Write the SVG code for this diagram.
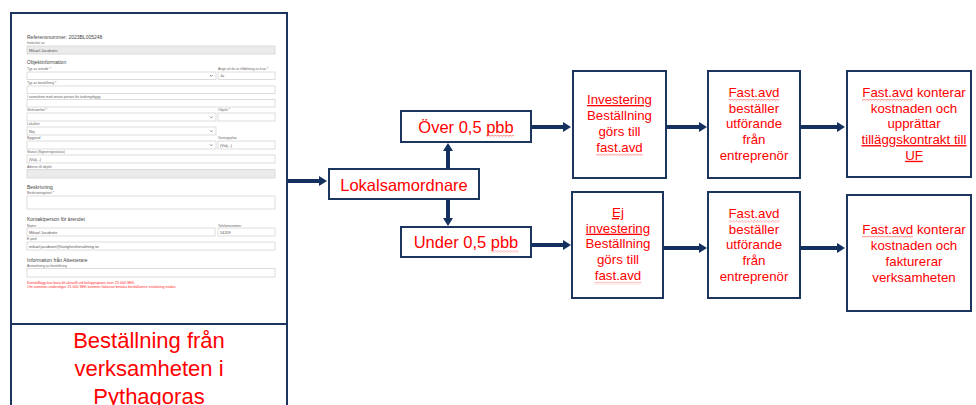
<svg xmlns="http://www.w3.org/2000/svg" width="976" height="405" viewBox="0 0 976 405">
<style>
.box{fill:#fff;stroke:#1b355f;stroke-width:2}
.t{font-family:"Liberation Sans",Arial,sans-serif;fill:#ff0000;text-anchor:middle}
.big{font-size:22px}
.mid{font-size:16.5px}
.sm{font-size:13.3px}
.u{text-decoration:underline}
.fl{font-family:"Liberation Sans",Arial,sans-serif;fill:#666;font-size:3.4px}
.fh{font-family:"Liberation Sans",Arial,sans-serif;fill:#444;font-size:5px}
.fv{font-family:"Liberation Sans",Arial,sans-serif;fill:#555;font-size:3.8px}
.fr{font-family:"Liberation Sans",Arial,sans-serif;fill:#ff2a2a;font-size:3.6px}
.fld{fill:#fff;stroke:#d4d4d4;stroke-width:0.8}
.fg{fill:#ebebeb;stroke:#d4d4d4;stroke-width:0.8}
.dd{fill:none;stroke:#555;stroke-width:0.7}
.c{fill:none;stroke:#14305e;stroke-width:4}
.wv{fill:url(#wave)}
</style>
<defs>
<marker id="ah" markerUnits="userSpaceOnUse" markerWidth="8" markerHeight="10" refX="2" refY="5" orient="auto">
<path d="M0,0 L8,5 L0,10 z" fill="#14305e"/>
</marker>
<pattern id="wave" patternUnits="userSpaceOnUse" width="3" height="2.4">
<path d="M0,0.5 L1.5,1.9 L3,0.5" fill="none" stroke="#ff4a4a" stroke-width="0.7"/>
</pattern>
</defs>
<rect width="976" height="405" fill="#fff"/>

<g id="form">
<rect class="box" x="11" y="13" width="276" height="400"/>
<line x1="11" y1="324" x2="287" y2="324" stroke="#1b355f" stroke-width="2"/>
<text class="fh" x="27" y="39">Referensnummer: 2023BL005248</text>
<text class="fl" x="27" y="44">Inskickat av</text>
<rect class="fg" x="27" y="46" width="248" height="8"/>
<text class="fv" x="29" y="51.5">Mikael Jacobsén</text>
<text class="fh" x="27" y="64">Objektinformation</text>
<text class="fl" x="27" y="70">Typ av ärende *</text>
<text class="fl" x="218" y="70">Ange att du är tilldelning av krav *</text>
<rect class="fld" x="27" y="72" width="189" height="7.5"/>
<path class="dd" d="M210,75 l1.3,1.3 l1.3,-1.3"/>
<rect class="fld" x="218" y="72" width="57" height="7.5"/>
<text class="fv" x="220" y="77.3">Ja</text>
<text class="fl" x="27" y="84">Typ av beställning *</text>
<rect class="fld" x="27" y="86" width="248" height="7.5"/>
<text class="fl" x="27" y="97.5">I samarbete med annan person för ändringsbygg</text>
<rect class="fld" x="27" y="99.5" width="248" height="7.5"/>
<text class="fl" x="27" y="111">Verksamhet *</text>
<text class="fl" x="218" y="111">Objekt *</text>
<rect class="fld" x="27" y="113" width="189" height="8"/>
<path class="dd" d="M210,116.5 l1.3,1.3 l1.3,-1.3"/>
<rect class="fld" x="218" y="113" width="57" height="8"/>
<text class="fl" x="27" y="125">Lokalitet</text>
<rect class="fld" x="27" y="127" width="189" height="8"/>
<text class="fv" x="29" y="132.5">Nej</text>
<path class="dd" d="M210,130.5 l1.3,1.3 l1.3,-1.3"/>
<text class="fl" x="27" y="139">Byggnad</text>
<text class="fl" x="218" y="139">Våningsplan</text>
<rect class="fld" x="27" y="141" width="189" height="8"/>
<path class="dd" d="M210,144.5 l1.3,1.3 l1.3,-1.3"/>
<rect class="fld" x="218" y="141" width="57" height="8"/>
<text class="fv" x="220" y="146.5">(Välj...)</text>
<text class="fl" x="27" y="153">Status (Signeringsstatus)</text>
<rect class="fld" x="27" y="155" width="248" height="8"/>
<text class="fv" x="29" y="160.5">(Välj...)</text>
<text class="fl" x="27" y="167.5">Adress till objekt</text>
<rect class="fg" x="27" y="169.5" width="248" height="8.5"/>
<text class="fh" x="27" y="189">Beskrivning</text>
<text class="fl" x="27" y="194">Beskrivningstext *</text>
<rect class="fld" x="27" y="196" width="248" height="13"/>
<text class="fh" x="27" y="221">Kontaktperson för ärendet</text>
<text class="fl" x="27" y="226.5">Namn</text>
<text class="fl" x="218" y="226.5">Telefonnummer</text>
<rect class="fld" x="27" y="228" width="188" height="8"/>
<text class="fv" x="29" y="233.5">Mikael Jacobsén</text>
<rect class="fld" x="218" y="228" width="57" height="8"/>
<text class="fv" x="220" y="233.5">54209</text>
<text class="fl" x="27" y="240">E-post</text>
<rect class="fld" x="27" y="242" width="248" height="8"/>
<text class="fv" x="29" y="247.5">mikael.jacobsen@fastighetsforvaltning.se</text>
<text class="fh" x="27" y="261.5">Information från Attesterare</text>
<text class="fl" x="27" y="266.5">Anmärkning av beställning</text>
<rect class="fld" x="27" y="268.5" width="248" height="8.5"/>
<text class="fr" x="27" y="284">Kontotillägg kan bara bli aktuellt vid beloppsgräns över 25 000 SEK.</text>
<text class="fr" x="27" y="288">Om summan understiger 25 000 SEK kommer fakturan betalas beställarens ersättning nedan.</text>
<text class="t big" x="149" y="348">Beställning från</text>
<text class="t big" x="149" y="376">verksamheten i</text>
<text class="t big" x="149" y="404">Pythagoras</text>
</g>

<g id="lokalsamordnare">
<rect class="box" x="329" y="169" width="150" height="30"/>
<text class="t mid" x="404" y="190.5">Lokalsamordnare</text>
</g>

<g id="over">
<rect class="box" x="401" y="111" width="130" height="31"/>
<text class="t mid" x="466" y="132.5">Över 0,5 pbb</text>
<rect class="wv" x="486" y="135" width="28" height="2.4"/>
</g>

<g id="under">
<rect class="box" x="401" y="227" width="130" height="30"/>
<text class="t mid" x="466" y="248">Under 0,5 pbb</text>
<rect class="wv" x="490.5" y="250.5" width="28" height="2.4"/>
</g>

<g id="investering">
<rect class="box" x="573" y="71" width="93" height="107"/>
<text class="t sm" x="619.5" y="104"><tspan class="u">Investering</tspan></text>
<text class="t sm" x="619.5" y="120">Beställning</text>
<text class="t sm" x="619.5" y="135.5">görs till</text>
<text class="t sm" x="619.5" y="151.5">fast.avd</text>
<rect class="wv" x="596" y="153.5" width="47" height="2.4"/>
</g>

<g id="bestaller-top">
<rect class="box" x="708" y="71" width="92" height="107"/>
<text class="t sm" x="754" y="97">Fast.avd</text>
<rect class="wv" x="728.5" y="99" width="51" height="2.4"/>
<text class="t sm" x="754" y="112.7">beställer</text>
<text class="t sm" x="754" y="128.4">utförande</text>
<text class="t sm" x="754" y="144.1">från</text>
<text class="t sm" x="754" y="159.8">entreprenör</text>
</g>

<g id="konterar-top">
<rect class="box" x="847" y="71" width="124" height="106"/>
<text class="t sm" x="914" y="97">Fast.avd konterar</text>
<rect class="wv" x="862" y="99" width="51" height="2.4"/>
<text class="t sm" x="914" y="112.7">kostnaden och</text>
<text class="t sm" x="914" y="128.4">upprättar</text>
<text class="t sm" x="914" y="144.1"><tspan class="u">tilläggskontrakt till</tspan></text>
<text class="t sm" x="914" y="159.8"><tspan class="u">UF</tspan></text>
</g>

<g id="ej-investering">
<rect class="box" x="572" y="192" width="91" height="106"/>
<text class="t sm" x="618" y="217"><tspan class="u">Ej</tspan></text>
<text class="t sm" x="618" y="232.7"><tspan class="u">investering</tspan></text>
<text class="t sm" x="618" y="248.4">Beställning</text>
<text class="t sm" x="618" y="264.1">görs till</text>
<text class="t sm" x="618" y="279.8">fast.avd</text>
<rect class="wv" x="594.5" y="281.8" width="47" height="2.4"/>
</g>

<g id="bestaller-bottom">
<rect class="box" x="708" y="192" width="92" height="106"/>
<text class="t sm" x="754" y="218">Fast.avd</text>
<rect class="wv" x="728.5" y="220" width="51" height="2.4"/>
<text class="t sm" x="754" y="233.7">beställer</text>
<text class="t sm" x="754" y="249.4">utförande</text>
<text class="t sm" x="754" y="265.1">från</text>
<text class="t sm" x="754" y="280.8">entreprenör</text>
</g>

<g id="konterar-bottom">
<rect class="box" x="847" y="195" width="124" height="116"/>
<text class="t sm" x="914" y="233.5">Fast.avd konterar</text>
<rect class="wv" x="862" y="235.5" width="51" height="2.4"/>
<text class="t sm" x="914" y="249.5">kostnaden och</text>
<text class="t sm" x="914" y="265.5">fakturerar</text>
<text class="t sm" x="914" y="281.5">verksamheten</text>
</g>

<g id="connectors">
<path class="c" d="M288,181 H321" marker-end="url(#ah)"/>
<path class="c" d="M448,168 V149" marker-end="url(#ah)"/>
<path class="c" d="M448,200 V220" marker-end="url(#ah)"/>
<path class="c" d="M532,127 H565" marker-end="url(#ah)"/>
<path class="c" d="M532,245 H565" marker-end="url(#ah)"/>
<path class="c" d="M667,127 H701" marker-end="url(#ah)"/>
<path class="c" d="M801,127 H839" marker-end="url(#ah)"/>
<path class="c" d="M664,248 H701" marker-end="url(#ah)"/>
<path class="c" d="M801,248 H839" marker-end="url(#ah)"/>
</g>
</svg>
